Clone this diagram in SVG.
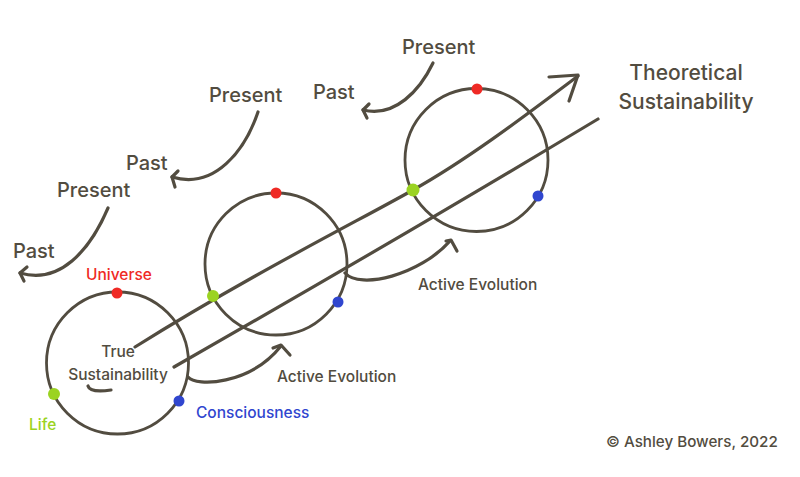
<svg xmlns="http://www.w3.org/2000/svg" width="800" height="477" viewBox="0 0 800 477">
<style>
.ln{fill:none;stroke:#524c40;stroke-width:3.2;stroke-linecap:round;stroke-linejoin:round}
.ring{fill:none;stroke:#524c40;stroke-width:2.8}
.t{font-family:Inter,"Noto Sans","Liberation Sans",sans-serif;fill:#524c40}
.big{font-size:20px;font-weight:500}
.mid{font-size:15.5px;font-weight:500}
.red{fill:#ef2a25}.grn{fill:#9bd322}.blu{fill:#3046cf}
</style>
<rect width="800" height="477" fill="#ffffff"/>
<g id="connectors">
<path class="ln" d="M135,347 C250,275 360,220 413,190 C470,158 530,112 578,76"/>
<path class="ln" d="M549,77 L578,75 L569,101"/>
<path class="ln" d="M174,367 C300,295 480,190 598,119"/>
<path class="ln" d="M88,386 Q90,393 111,390"/>
<path class="ln" d="M188,377 C196,387 250,385 281,346"/>
<path class="ln" d="M273,348 L281,345 L290,355"/>
<path class="ln" d="M345,273 C360,290 420,275 450,241"/>
<path class="ln" d="M446,241 L451,240 L457,251"/>
<path class="ln" d="M108,208 C90,250 60,285 20,273"/>
<path class="ln" d="M27,267 L20,273 L24,281"/>
<path class="ln" d="M258,112 C245,150 215,190 172,177"/>
<path class="ln" d="M178,171 L172,177 L175,187"/>
<path class="ln" d="M433,63 C420,90 395,118 363,110"/>
<path class="ln" d="M369,104 L363,110 L367,118"/>
</g>
<g id="circle1">
<circle class="ring" cx="117.5" cy="363" r="71"/>
<circle class="red" cx="117" cy="293" r="5.5"/>
<circle class="grn" cx="54" cy="394" r="6"/>
<circle class="blu" cx="179" cy="401" r="5.5"/>
</g>
<g id="circle2">
<circle class="ring" cx="276" cy="264" r="71"/>
<circle class="red" cx="276" cy="193" r="5.5"/>
<circle class="grn" cx="213" cy="296" r="6"/>
<circle class="blu" cx="338" cy="302" r="5.5"/>
</g>
<g id="circle3">
<circle class="ring" cx="476.5" cy="160" r="71.5"/>
<circle class="red" cx="477" cy="89" r="5.5"/>
<circle class="grn" cx="413" cy="190" r="6.5"/>
<circle class="blu" cx="538" cy="196" r="5.5"/>
</g>
<g id="labels">
<text class="t mid red" x="86" y="280">Universe</text>
<text class="t mid blu" x="196" y="418">Consciousness</text>
<text class="t mid grn" x="29" y="430">Life</text>
<text class="t mid" x="118" y="357" text-anchor="middle">True</text>
<text class="t mid" x="118" y="380" text-anchor="middle">Sustainability</text>
<text class="t mid" x="277" y="382">Active Evolution</text>
<text class="t mid" x="418" y="290">Active Evolution</text>
<text class="t big" x="13" y="258">Past</text>
<text class="t big" x="57" y="197">Present</text>
<text class="t big" x="126" y="170">Past</text>
<text class="t big" x="209" y="102">Present</text>
<text class="t big" x="313" y="99">Past</text>
<text class="t big" x="402" y="54">Present</text>
<text class="t" style="font-size:21px;font-weight:500" x="686" y="80" text-anchor="middle">Theoretical</text>
<text class="t" style="font-size:21px;font-weight:500" x="686" y="109" text-anchor="middle">Sustainability</text>
<text class="t" style="font-size:15.2px;font-weight:500" x="606" y="447">© Ashley Bowers, 2022</text>
</g>
</svg>
